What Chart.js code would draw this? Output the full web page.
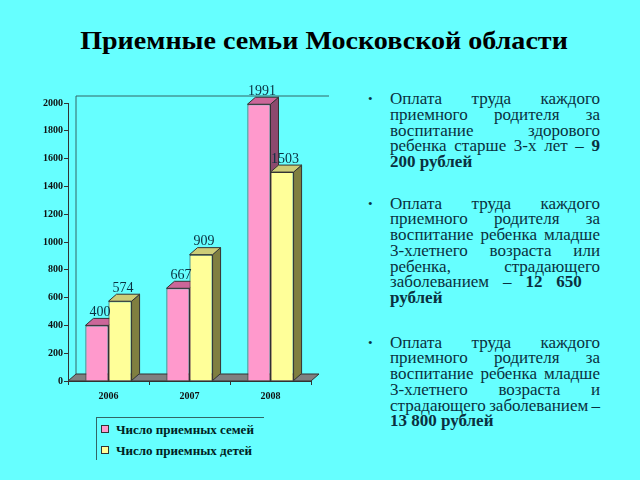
<!DOCTYPE html>
<html lang="ru">
<head>
<meta charset="utf-8">
<script src="https://cdn.jsdelivr.net/npm/chart.js@4/dist/chart.umd.min.js"></script>
<style>
  body {
    margin: 0;
    width: 640px;
    height: 480px;
    background: #66ffff;
    position: relative;
    overflow: hidden;
    font-family: "Liberation Serif", "Times New Roman", serif;
  }
  h1 {
    position: absolute;
    left: 0;
    top: 25.5px;
    width: 648px;
    margin: 0;
    text-align: center;
    font-size: 26px;
    line-height: 30px;
    color: #000;
    transform: scaleX(1.08);
    transform-origin: 324px 0;
  }
  #chartBox { position: absolute; left: 0; top: 80px; }
  #legend {
    position: absolute;
    left: 96px;
    top: 417px;
    width: 167px;
    height: 42px;
    border-top: 1px solid #336666;
    border-left: 1px solid #336666;
    font-size: 13px;
    font-weight: bold;
    color: #002222;
  }
  #legend div { position: absolute; left: 4px; white-space: nowrap; line-height: 14px; }
  #legend span.sw {
    display: inline-block;
    width: 6px;
    height: 6px;
    border: 1px solid #333;
    margin-right: 7px;
    vertical-align: 1px;
  }
  .note {
    position: absolute;
    left: 390px;
    width: 210px;
    font-size: 17px;
    line-height: 15.8px;
    color: #0a3040;
  }
  .note::before {
    content: "\2022";
    position: absolute;
    left: -22px;
    top: 0;
    font-size: 13px;
  }
  .note .ln { display: flex; justify-content: space-between; white-space: nowrap; height: 15.8px; }
  .note .ln.last { justify-content: flex-start; gap: 0.25em; }
</style>
</head>
<body>
<h1>Приемные семьи Московской области</h1>
<div id="chartBox"><canvas id="chart" width="330" height="330"></canvas></div>
<div id="legend"></div>

<div class="note" style="top:91px">
  <div class="ln"><span>Оплата</span><span>труда</span><span>каждого</span></div>
  <div class="ln"><span>приемного</span><span>родителя</span><span>за</span></div>
  <div class="ln"><span>воспитание</span><span>здорового</span></div>
  <div class="ln"><span>ребенка</span><span>старше</span><span>3-х</span><span>лет</span><span>–</span><b>9</b></div>
  <div class="ln last"><b>200</b><b>рублей</b></div>
</div>

<div class="note" style="top:195.5px">
  <div class="ln"><span>Оплата</span><span>труда</span><span>каждого</span></div>
  <div class="ln"><span>приемного</span><span>родителя</span><span>за</span></div>
  <div class="ln"><span>воспитание</span><span>ребенка</span><span>младше</span></div>
  <div class="ln"><span>3-хлетнего</span><span>возраста</span><span>или</span></div>
  <div class="ln"><span>ребенка,</span><span>страдающего</span></div>
  <div class="ln"><span>заболеванием</span><span>–</span><b>12</b><b>650</b><span>&nbsp;</span></div>
  <div class="ln last"><b>рублей</b></div>
</div>

<div class="note" style="top:334.5px">
  <div class="ln"><span>Оплата</span><span>труда</span><span>каждого</span></div>
  <div class="ln"><span>приемного</span><span>родителя</span><span>за</span></div>
  <div class="ln"><span>воспитание</span><span>ребенка</span><span>младше</span></div>
  <div class="ln"><span>3-хлетнего</span><span>возраста</span><span>и</span></div>
  <div class="ln"><span>страдающего</span><span>заболеванием</span><span>–</span></div>
  <div class="ln last"><b>13</b><b>800</b><b>рублей</b></div>
</div>

<script>
// данные диаграммы
const years = ["2006", "2007", "2008"];
const families = [400, 667, 1991];
const children = [574, 909, 1503];
const seriesNames = ["Число приемных семей", "Число приемных детей"];
const yMax = 2000;
const yStep = 200;

// цвета граней (перед, верх, бок)
const faces = [
  { front: "#ff99cc", top: "#cc6699", side: "#8c4a6e" },
  { front: "#ffff99", top: "#cccc77", side: "#807f40" },
];
const DX = 8, DY = 7;

function poly(ctx, pts, fill) {
  ctx.beginPath();
  ctx.moveTo(pts[0][0], pts[0][1]);
  for (let i = 1; i < pts.length; i++) ctx.lineTo(pts[i][0], pts[i][1]);
  ctx.closePath();
  ctx.fillStyle = fill;
  ctx.fill();
  ctx.stroke();
}

// псевдо-3D: стенки, пол, верх и бок столбцов
const depth3d = {
  id: "depth3d",
  beforeDatasetsDraw(chart) {
    const { ctx, chartArea: a } = chart;
    ctx.save();
    ctx.lineWidth = 1;
    ctx.strokeStyle = "#336666";
    ctx.beginPath();
    ctx.moveTo(a.left + DX, a.bottom - DY);
    ctx.lineTo(a.left + DX, a.top - DY);
    ctx.lineTo(a.right + DX + 10, a.top - DY);
    ctx.stroke();

    ctx.strokeStyle = "#333";
    poly(ctx, [[a.left, a.bottom], [a.right, a.bottom], [a.right + DX, a.bottom - DY], [a.left + DX, a.bottom - DY]], "#808080");

    chart.data.datasets.forEach((ds, i) => {
      chart.getDatasetMeta(i).data.forEach((bar) => {
        const l = bar.x - bar.width / 2, r = bar.x + bar.width / 2;
        poly(ctx, [[r, bar.y], [r + DX, bar.y - DY], [r + DX, bar.base - DY], [r, bar.base]], faces[i].side);
        poly(ctx, [[l, bar.y], [r, bar.y], [r + DX, bar.y - DY], [l + DX, bar.y - DY]], faces[i].top);
      });
    });
    ctx.restore();
  },
  afterDatasetsDraw(chart) {
    const ctx = chart.ctx;
    ctx.save();
    ctx.font = "14px 'Liberation Serif'";
    ctx.fillStyle = "#0a3040";
    ctx.textAlign = "center";
    ctx.textBaseline = "bottom";
    chart.data.datasets.forEach((ds, i) => {
      chart.getDatasetMeta(i).data.forEach((bar, j) => {
        ctx.fillText(ds.data[j], bar.x + 3, bar.y - 6);
      });
    });
    ctx.restore();
  },
};

const ctx = document.getElementById("chart").getContext("2d");
new Chart(ctx, {
  type: "bar",
  data: {
    labels: years,
    datasets: [
      { label: seriesNames[0], data: families, backgroundColor: faces[0].front },
      { label: seriesNames[1], data: children, backgroundColor: faces[1].front },
    ],
  },
  options: {
    responsive: false,
    animation: false,
    layout: { padding: { top: 23, right: 19, left: 0, bottom: 0 } },
    datasets: {
      bar: {
        barPercentage: 1,
        categoryPercentage: 0.57,
        borderColor: "#333",
        borderWidth: 1,
      },
    },
    plugins: {
      legend: { display: false },
      tooltip: { enabled: false },
    },
    scales: {
      x: {
        afterFit: (s) => { s.height = 29; },
        grid: { drawOnChartArea: false, tickLength: 4, color: "#333" },
        border: { color: "#333" },
        ticks: { color: "#111", font: { family: "Liberation Serif", size: 10, weight: "bold" }, padding: 5 },
      },
      y: {
        min: 0,
        max: yMax,
        afterFit: (s) => { s.width = 68; },
        grid: { drawOnChartArea: false, tickLength: 4, color: "#333" },
        border: { color: "#333" },
        ticks: {
          stepSize: yStep,
          color: "#111",
          font: { family: "Liberation Serif", size: 10, weight: "bold" },
          padding: 1,
          callback: (v) => String(v),
        },
      },
    },
  },
  plugins: [depth3d],
});

// легенда
const legend = document.getElementById("legend");
seriesNames.forEach((name, i) => {
  const row = document.createElement("div");
  row.style.top = (5 + i * 21) + "px";
  row.innerHTML = '<span class="sw" style="background:' + faces[i].front + '"></span>' + name;
  legend.appendChild(row);
});
</script>
</body>
</html>
